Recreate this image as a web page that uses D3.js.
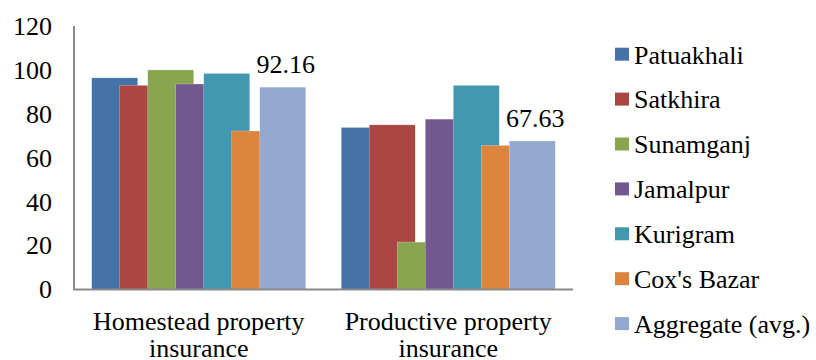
<!DOCTYPE html>
<html>
<head>
<meta charset="utf-8">
<script src="https://cdn.jsdelivr.net/npm/d3@7"></script>
</head>
<body style="margin:0">
<svg width="816" height="360" font-family="Times New Roman" style="font-family: 'Times New Roman', 'Liberation Serif', Tinos"></svg>
<script>
const width = 816;
const height = 360;
const fontFam = "'Times New Roman', 'Liberation Serif', Tinos";

// data
const categories = ['Homestead property insurance', 'Productive property insurance'];
const catLines = [['Homestead property', 'insurance'], ['Productive property', 'insurance']];
const series = ['Patuakhali', 'Satkhira', 'Sunamganj', 'Jamalpur', 'Kurigram', "Cox's Bazar", 'Aggregate (avg.)'];
const homestead = [96.4, 93.0, 100.0, 93.6, 98.4, 72.2, 92.16];
const productive = [73.8, 75.0, 21.6, 77.6, 93.0, 65.6, 67.63];
const yTicks = [0, 20, 40, 60, 80, 100, 120];
const colors = ['#4572A7', '#AA4643', '#89A54E', '#71588F', '#4198AF', '#DB843D', '#93A9CF'];

const values = [homestead, productive];

const svg = d3.select('svg');

const x0 = d3.scaleBand()
  .domain(categories)
  .range([74, 573])
  .paddingInner(0.142)
  .paddingOuter(0.071);

const barW = x0.bandwidth() * 0.215;
// bars overlap like excel's negative gap
const x1 = d3.scalePoint()
  .domain(series)
  .range([0, x0.bandwidth() - barW]);

const y = d3.scaleLinear().domain([0, 120]).range([289.5, 26]);

const color = d3.scaleOrdinal().domain(series).range(colors);

// y tick labels
svg.append('g')
  .selectAll('text')
  .data(yTicks)
  .join('text')
  .attr('x', 52)
  .attr('y', d => y(d))
  .attr('dy', '0.34em')
  .attr('text-anchor', 'end')
  .style('font-family', fontFam)
  .attr('font-size', 26)
  .text(d => d);

// bars, one group per category, series drawn in order so later ones sit on top
const groups = svg.append('g')
  .selectAll('g')
  .data(categories)
  .join('g')
  .attr('transform', d => `translate(${x0(d)},0)`);

groups.selectAll('rect')
  .data((c, i) => series.map((s, j) => ({ s, v: values[i][j] })))
  .join('rect')
  .attr('x', d => x1(d.s))
  .attr('y', d => y(d.v))
  .attr('width', barW)
  .attr('height', d => y(0) - y(d.v))
  .attr('fill', d => color(d.s))
  .attr('stroke', 'rgba(255,255,255,0.45)')
  .attr('stroke-width', 0.6);

// data labels on the aggregate bars
groups.append('text')
  .attr('x', x1(series[6]) + barW / 2 + 3)
  .attr('y', (c, i) => y(values[i][6]) - 14)
  .attr('text-anchor', 'middle')
  .style('font-family', fontFam)
  .attr('font-size', 26)
  .text((c, i) => values[i][6].toFixed(2));

// axes lines
svg.append('line')
  .attr('x1', 74).attr('x2', 74)
  .attr('y1', y(120)).attr('y2', y(0))
  .attr('stroke', '#8a8a8a').attr('stroke-width', 2);
svg.append('line')
  .attr('x1', 73).attr('x2', 573)
  .attr('y1', y(0)).attr('y2', y(0))
  .attr('stroke', '#8a8a8a').attr('stroke-width', 2);

// category labels, two lines
const catText = svg.append('g')
  .selectAll('text')
  .data(categories)
  .join('text')
  .attr('x', d => x0(d) + x0.bandwidth() / 2)
  .attr('y', 330)
  .attr('text-anchor', 'middle')
  .style('font-family', fontFam)
  .attr('font-size', 26);
catText.selectAll('tspan')
  .data((d, i) => catLines[i])
  .join('tspan')
  .attr('x', function () { return d3.select(this.parentNode).attr('x'); })
  .attr('dy', (d, i) => i === 0 ? 0 : 27)
  .text(d => d);

// legend
const legend = svg.append('g')
  .selectAll('g')
  .data(series)
  .join('g')
  .attr('transform', (d, i) => `translate(615,${54.7 + i * 44.9})`);
legend.append('rect')
  .attr('x', 0).attr('y', -7)
  .attr('width', 14).attr('height', 13)
  .attr('fill', d => color(d));
legend.append('text')
  .attr('x', 19)
  .attr('y', 0)
  .attr('dy', '0.34em')
  .style('font-family', fontFam)
  .attr('font-size', 26)
  .text(d => d);
</script>
</body>
</html>
